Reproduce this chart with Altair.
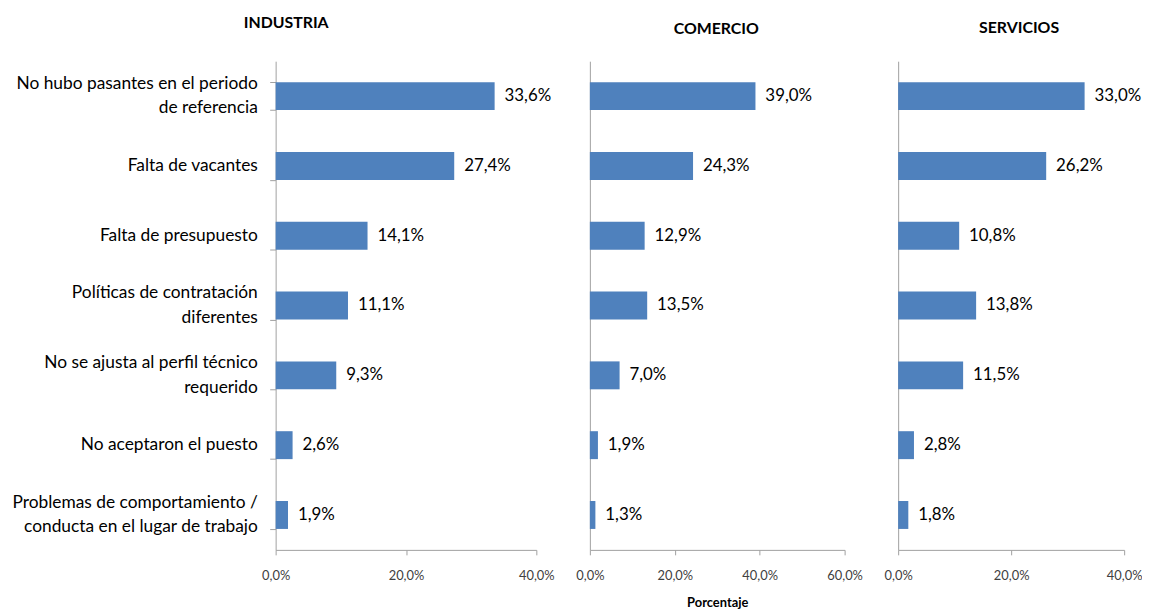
import altair as alt
import pandas as pd

categories = [
    "No hubo pasantes en el periodo|de referencia",
    "Falta de vacantes",
    "Falta de presupuesto",
    "Políticas de contratación|diferentes",
    "No se ajusta al perfil técnico|requerido",
    "No aceptaron el puesto",
    "Problemas de comportamiento /|conducta en el lugar de trabajo",
]
sectors = ["INDUSTRIA", "COMERCIO", "SERVICIOS"]
industria = [33.6, 27.4, 14.1, 11.1, 9.3, 2.6, 1.9]
comercio = [39.0, 24.3, 12.9, 13.5, 7.0, 1.9, 1.3]
servicios = [33.0, 26.2, 10.8, 13.8, 11.5, 2.8, 1.8]
x_max = [40, 60, 40]
x_ticks = [[0, 20, 40], [0, 20, 40, 60], [0, 20, 40]]
x_title = "Porcentaje"

FONT = "Lato"
BAR = "#4F81BD"
GREY = "#A0A0A0"
PLOT_H = 493
LABEL_SIZE = 17.5
LINE_H = 25


def panel(name, values, xmax, ticks, width, first, title_offset, title_dx, show_xtitle):
    df = pd.DataFrame({"Motivo": categories, "Valor": values})
    y_axis = alt.Axis(
        labels=False,
        ticks=first,
        tickBand="extent",
        tickSize=6,
        tickColor=GREY,
        domainColor=GREY,
    )
    y = alt.Y(
        "Motivo:N",
        sort=categories,
        title=None,
        scale=alt.Scale(paddingInner=0.6, paddingOuter=0.3),
        axis=y_axis,
    )
    x_axis_kwargs = dict(
        values=ticks,
        labelExpr="replace(format(datum.value, '.1f'), '.', ',') + '%'",
        grid=False,
        tickSize=5,
        tickColor=GREY,
        domainColor=GREY,
        labelFont=FONT,
        labelFontSize=13,
        labelColor="#404040",
        labelPadding=15,
        labelFlush=False,
    )
    if show_xtitle:
        x_axis_kwargs.update(
            titleFont=FONT,
            titleFontSize=13,
            titleFontWeight="bold",
            titleColor="#000000",
            titlePadding=14,
        )
    x = alt.X(
        "Valor:Q",
        scale=alt.Scale(domain=[0, xmax], nice=False),
        title=x_title if show_xtitle else None,
        axis=alt.Axis(**x_axis_kwargs),
    )
    base = alt.Chart(df)
    bars = base.mark_bar(color=BAR).encode(x=x, y=y)
    values_txt = base.transform_calculate(
        lbl="replace(format(datum.Valor, '.1f'), '.', ',') + '%'"
    ).mark_text(
        align="left", baseline="middle", dx=10, font=FONT, fontSize=17, color="#000000"
    ).encode(x=x, y=y, text="lbl:N")
    layers = [bars, values_txt]
    if first:
        cat_single = base.transform_filter(
            "indexof(datum.Motivo, '|') < 0"
        ).mark_text(
            align="right", baseline="middle", dx=-18, font=FONT,
            fontSize=LABEL_SIZE, color="#000000",
        ).encode(x=alt.value(0), y=y, text="Motivo:N")
        cat_multi = base.transform_filter(
            "indexof(datum.Motivo, '|') >= 0"
        ).mark_text(
            align="right", baseline="middle", dx=-18, dy=-LINE_H / 2, font=FONT,
            fontSize=LABEL_SIZE, color="#000000", lineBreak="|", lineHeight=LINE_H,
        ).encode(x=alt.value(0), y=y, text="Motivo:N")
        layers += [cat_single, cat_multi]
    return alt.layer(*layers).properties(
        width=width,
        height=PLOT_H,
        title=alt.TitleParams(
            name,
            anchor="middle",
            frame="bounds" if first else "group",
            offset=title_offset,
            dx=title_dx,
            baseline="alphabetic",
            font=FONT,
            fontSize=16,
            fontWeight="bold",
            color="#000000",
        ),
    )


p1 = panel(sectors[0], industria, x_max[0], x_ticks[0], 263, True, 17, 3, False)
p2 = panel(sectors[1], comercio, x_max[1], x_ticks[1], 257, False, 11, -1, True)
p3 = panel(sectors[2], servicios, x_max[2], x_ticks[2], 228, False, 12.5, 8, False)

chart = (
    alt.hconcat(p1, p2, p3, spacing=54, bounds="flush")
    .configure_view(stroke=None)
    .properties(padding={"left": 4, "top": 5, "right": 0, "bottom": 0}, background="white")
)

chart.save("out.html", embed_options={"renderer": "svg", "actions": False})
